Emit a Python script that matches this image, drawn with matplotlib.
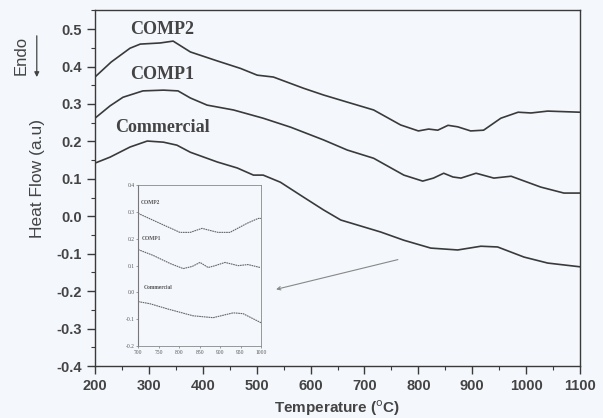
"""DSC heat-flow curves for the commercial powder and two composites, with a
zoomed inset of the 700-1000 C region."""
import numpy as np
import matplotlib
matplotlib.use("Agg")
import matplotlib.pyplot as plt
from matplotlib.patches import FancyArrowPatch
from matplotlib.ticker import MultipleLocator

# main curves
t_comp2 = [200, 230, 265, 284, 321, 345, 377, 427, 470, 501, 531, 587, 624, 668, 717,
           767, 800, 819, 836, 855, 873, 897, 921, 953, 985, 1009, 1040, 1100]
hf_comp2 = [0.372, 0.412, 0.449, 0.460, 0.463, 0.468, 0.439, 0.415, 0.395, 0.377, 0.372,
            0.342, 0.324, 0.305, 0.284, 0.244, 0.228, 0.233, 0.230, 0.243, 0.239, 0.228,
            0.230, 0.262, 0.278, 0.276, 0.281, 0.278]
t_comp1 = [200, 228, 252, 289, 327, 354, 377, 408, 457, 512, 563, 624, 668, 717, 773, 808,
           828, 847, 864, 879, 907, 940, 972, 1027, 1070, 1100]
hf_comp1 = [0.262, 0.295, 0.318, 0.335, 0.337, 0.335, 0.316, 0.297, 0.284, 0.262, 0.238,
            0.204, 0.177, 0.155, 0.110, 0.094, 0.102, 0.115, 0.105, 0.102, 0.115, 0.102,
            0.107, 0.078, 0.062, 0.062]
t_comm = [200, 228, 265, 297, 327, 352, 377, 427, 464, 494, 512, 544, 587, 624, 656, 730,
          773, 823, 873, 916, 947, 996, 1040, 1100]
hf_comm = [0.142, 0.158, 0.185, 0.201, 0.198, 0.190, 0.171, 0.145, 0.129, 0.110, 0.110,
           0.091, 0.051, 0.017, -0.010, -0.042, -0.064, -0.085, -0.090, -0.080, -0.082,
           -0.109, -0.125, -0.135]

# inset curves
ti_comp2 = [700, 737, 802, 827, 856, 876, 895, 924, 966, 993, 1000]
hi_comp2 = [0.295, 0.269, 0.224, 0.224, 0.239, 0.231, 0.224, 0.224, 0.258, 0.276, 0.276]
ti_comp1 = [700, 737, 778, 810, 832, 851, 871, 888, 912, 944, 968, 998]
hi_comp1 = [0.160, 0.138, 0.108, 0.089, 0.097, 0.112, 0.093, 0.100, 0.112, 0.100, 0.104, 0.093]
ti_comm = [700, 729, 771, 834, 883, 932, 956, 1000]
hi_comm = [-0.034, -0.042, -0.061, -0.087, -0.094, -0.076, -0.079, -0.113]

y_ticks = [-0.4, -0.3, -0.2, -0.1, 0.0, 0.1, 0.2, 0.3, 0.4, 0.5]
yi_ticks = [-0.2, -0.1, 0.0, 0.1, 0.2, 0.3, 0.4]

BG = "#f4f7fc"
INK = "#3a3a3a"
TXT = "#444444"
SANS = "Liberation Sans"
SERIF = "Liberation Serif"

fig = plt.figure(figsize=(6.03, 4.18), dpi=100, facecolor=BG)
ax = fig.add_axes([0.1575, 0.1244, 0.8045, 0.8516], facecolor=BG)

for t, h in [(t_comp2, hf_comp2), (t_comp1, hf_comp1), (t_comm, hf_comm)]:
    ax.plot(t, h, color=INK, lw=1.2)

ax.set_xlim(200, 1100)
ax.set_ylim(-0.4, 0.551)
ax.xaxis.set_major_locator(MultipleLocator(100))
ax.xaxis.set_minor_locator(MultipleLocator(50))
ax.yaxis.set_minor_locator(MultipleLocator(0.05))
ax.set_yticks(y_ticks)
ax.set_yticklabels([f"{v:.1f}" for v in y_ticks])
ax.tick_params(which="major", direction="out", length=6, width=1, color=INK)
ax.tick_params(which="minor", direction="out", length=3, width=0.8, color=INK)
for lab in ax.get_xticklabels() + ax.get_yticklabels():
    lab.set_fontfamily(SANS); lab.set_fontweight("bold"); lab.set_fontsize(10.5); lab.set_color(TXT)
for s in ax.spines.values():
    s.set_color(INK); s.set_linewidth(1.0)

ax.set_xlabel("Temperature ($^{\\rm o}$C)", fontfamily=SANS, fontweight="bold",
              fontsize=11, color=TXT, labelpad=4)
fig.text(0.062, 0.574, "Heat Flow (a.u)", rotation=90, ha="center", va="center",
         fontfamily=SANS, fontsize=12.5, color=TXT)
fig.text(0.035, 0.868, "Endo", rotation=90, ha="center", va="center",
         fontfamily=SANS, fontsize=12, color=TXT)
fig.add_artist(FancyArrowPatch((0.061, 0.921), (0.061, 0.809), transform=fig.transFigure,
                               arrowstyle="-|>", mutation_scale=7, color=TXT, lw=0.9))

lbl = dict(fontfamily=SERIF, fontweight="bold", fontsize=13, color=TXT, ha="center", va="center")
ax.text(325, 0.50, "COMP2", **lbl)
ax.text(325, 0.38, "COMP1", **lbl)
ax.text(325, 0.237, "Commercial", **lbl)

ax.annotate("", xy=(531, -0.197), xytext=(767, -0.114),
            arrowprops=dict(arrowstyle="->", color="#888", lw=0.8, mutation_scale=6))

# inset
ins = fig.add_axes([0.229, 0.172, 0.204, 0.385], facecolor=BG)
for t, h in [(ti_comp2, hi_comp2), (ti_comp1, hi_comp1), (ti_comm, hi_comm)]:
    ins.plot(t, h, color="#666", lw=0.8, ls=(0, (1.5, 0.6)))
ins.set_xlim(700, 1000)
ins.set_ylim(-0.2, 0.4)
ins.set_xticks(np.arange(700, 1001, 50))
ins.set_yticks(yi_ticks)
ins.set_yticklabels([f"{v:.1f}" for v in yi_ticks])
ins.tick_params(labelsize=4, length=1.5, width=0.5, pad=1, color="#777", labelcolor="#555")
for lab in ins.get_xticklabels() + ins.get_yticklabels():
    lab.set_fontfamily(SERIF)
ins.spines["left"].set_color("#777")
ins.spines["left"].set_linewidth(0.8)
for side in ["top", "right", "bottom"]:
    ins.spines[side].set_color("#888")
    ins.spines[side].set_linewidth(0.6)
    ins.spines[side].set_linestyle((0, (1.5, 1)))
ilbl = dict(fontfamily=SERIF, fontweight="bold", fontsize=4, color="#555", ha="left", va="center")
ins.text(707, 0.335, "COMP2", **ilbl)
ins.text(710, 0.20, "COMP1", **ilbl)
ins.text(715, 0.02, "Commercial", **ilbl)

fig.savefig("out.png", dpi=100, facecolor=BG)
